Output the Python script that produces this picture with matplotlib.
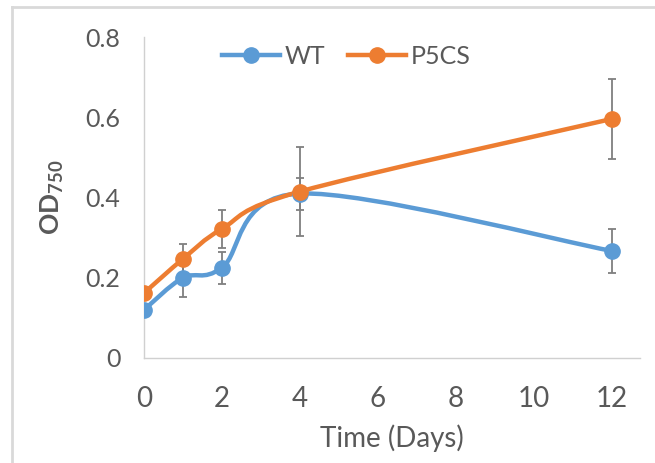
import matplotlib
matplotlib.use("Agg")
import matplotlib.pyplot as plt
from matplotlib.path import Path
from matplotlib.patches import PathPatch
from matplotlib.lines import Line2D

# growth data, OD750 over time
days = [0, 1, 2, 4, 12]
wt = [0.120, 0.200, 0.225, 0.410, 0.267]
wt_err = [0.0, 0.047, 0.040, 0.040, 0.054]
p5cs = [0.162, 0.247, 0.322, 0.415, 0.596]
p5cs_err = [0.0, 0.037, 0.047, 0.112, 0.100]

BLUE = "#5B9BD5"
ORANGE = "#ED7D31"
GREY_TXT = "#595959"

plt.rcParams["font.family"] = ["Lato", "DejaVu Sans"]


def smooth_path(xs, ys):
    # cubic bezier through the points, control points from neighbour slopes
    pts = list(zip(xs, ys))
    n = len(pts)
    verts = [pts[0]]
    codes = [Path.MOVETO]
    for i in range(n - 1):
        p0 = pts[i - 1] if i > 0 else pts[i]
        p1 = pts[i]
        p2 = pts[i + 1]
        p3 = pts[i + 2] if i + 2 < n else pts[i + 1]
        c1 = (p1[0] + (p2[0] - p0[0]) / 6, p1[1] + (p2[1] - p0[1]) / 6)
        c2 = (p2[0] - (p3[0] - p1[0]) / 6, p2[1] - (p3[1] - p1[1]) / 6)
        verts += [c1, c2, p2]
        codes += [Path.CURVE4] * 3
    return Path(verts, codes)


fig = plt.figure(figsize=(6.55, 4.63), dpi=100)
ax = fig.add_axes([0.2198, 0.2268, 0.757, 0.693])

for ys, err, col in [(wt, wt_err, BLUE), (p5cs, p5cs_err, ORANGE)]:
    ax.errorbar(days, ys, yerr=err, fmt="none", ecolor="#7f7f7f",
                elinewidth=1.3, capsize=3, capthick=1.3, zorder=2)

for ys, col in [(wt, BLUE), (p5cs, ORANGE)]:
    ax.add_patch(PathPatch(smooth_path(days, ys), fill=False, edgecolor=col,
                           lw=3.2, capstyle="round", joinstyle="round", zorder=3))
    ax.plot(days, ys, "o", color=col, ms=11, zorder=4)

ax.set_xlim(0, 12.72)
ax.set_ylim(0, 0.8)
ax.set_xticks([0, 2, 4, 6, 8, 10, 12])
ax.set_yticks([0, 0.2, 0.4, 0.6, 0.8])
ax.set_yticklabels(["0", "0.2", "0.4", "0.6", "0.8"])

for s in ["top", "right"]:
    ax.spines[s].set_visible(False)
for s in ["left", "bottom"]:
    ax.spines[s].set_color("#d0d0d0")
    ax.spines[s].set_linewidth(1.0)
ax.tick_params(length=0, colors=GREY_TXT)
ax.tick_params(axis="x", labelsize=20, pad=20)
ax.tick_params(axis="y", labelsize=18, pad=17)

ax.set_xlabel("Time (Days)", fontsize=20, color=GREY_TXT, labelpad=9)
ax.set_ylabel(r"OD$_{\mathregular{750}}$", fontsize=19, color=GREY_TXT,
              fontweight="bold", labelpad=14)

handles = [Line2D([], [], color=BLUE, lw=3.2, marker="o", ms=11),
           Line2D([], [], color=ORANGE, lw=3.2, marker="o", ms=11)]
leg = fig.legend(handles, ["WT", "P5CS"], loc="center",
                 bbox_to_anchor=(0.529, 0.879), ncol=2, frameon=False,
                 fontsize=18, handlelength=2.3, columnspacing=0.9,
                 handletextpad=0.2)
for t in leg.get_texts():
    t.set_color(GREY_TXT)

# light outer frame
fig.add_artist(Line2D([12 / 655, 1], [1 - 7 / 463, 1 - 7 / 463],
                      transform=fig.transFigure, color="#d9d9d9", lw=2))
fig.add_artist(Line2D([12 / 655, 12 / 655], [0, 1 - 7 / 463],
                      transform=fig.transFigure, color="#d9d9d9", lw=2))

fig.savefig("out.png", dpi=100)
